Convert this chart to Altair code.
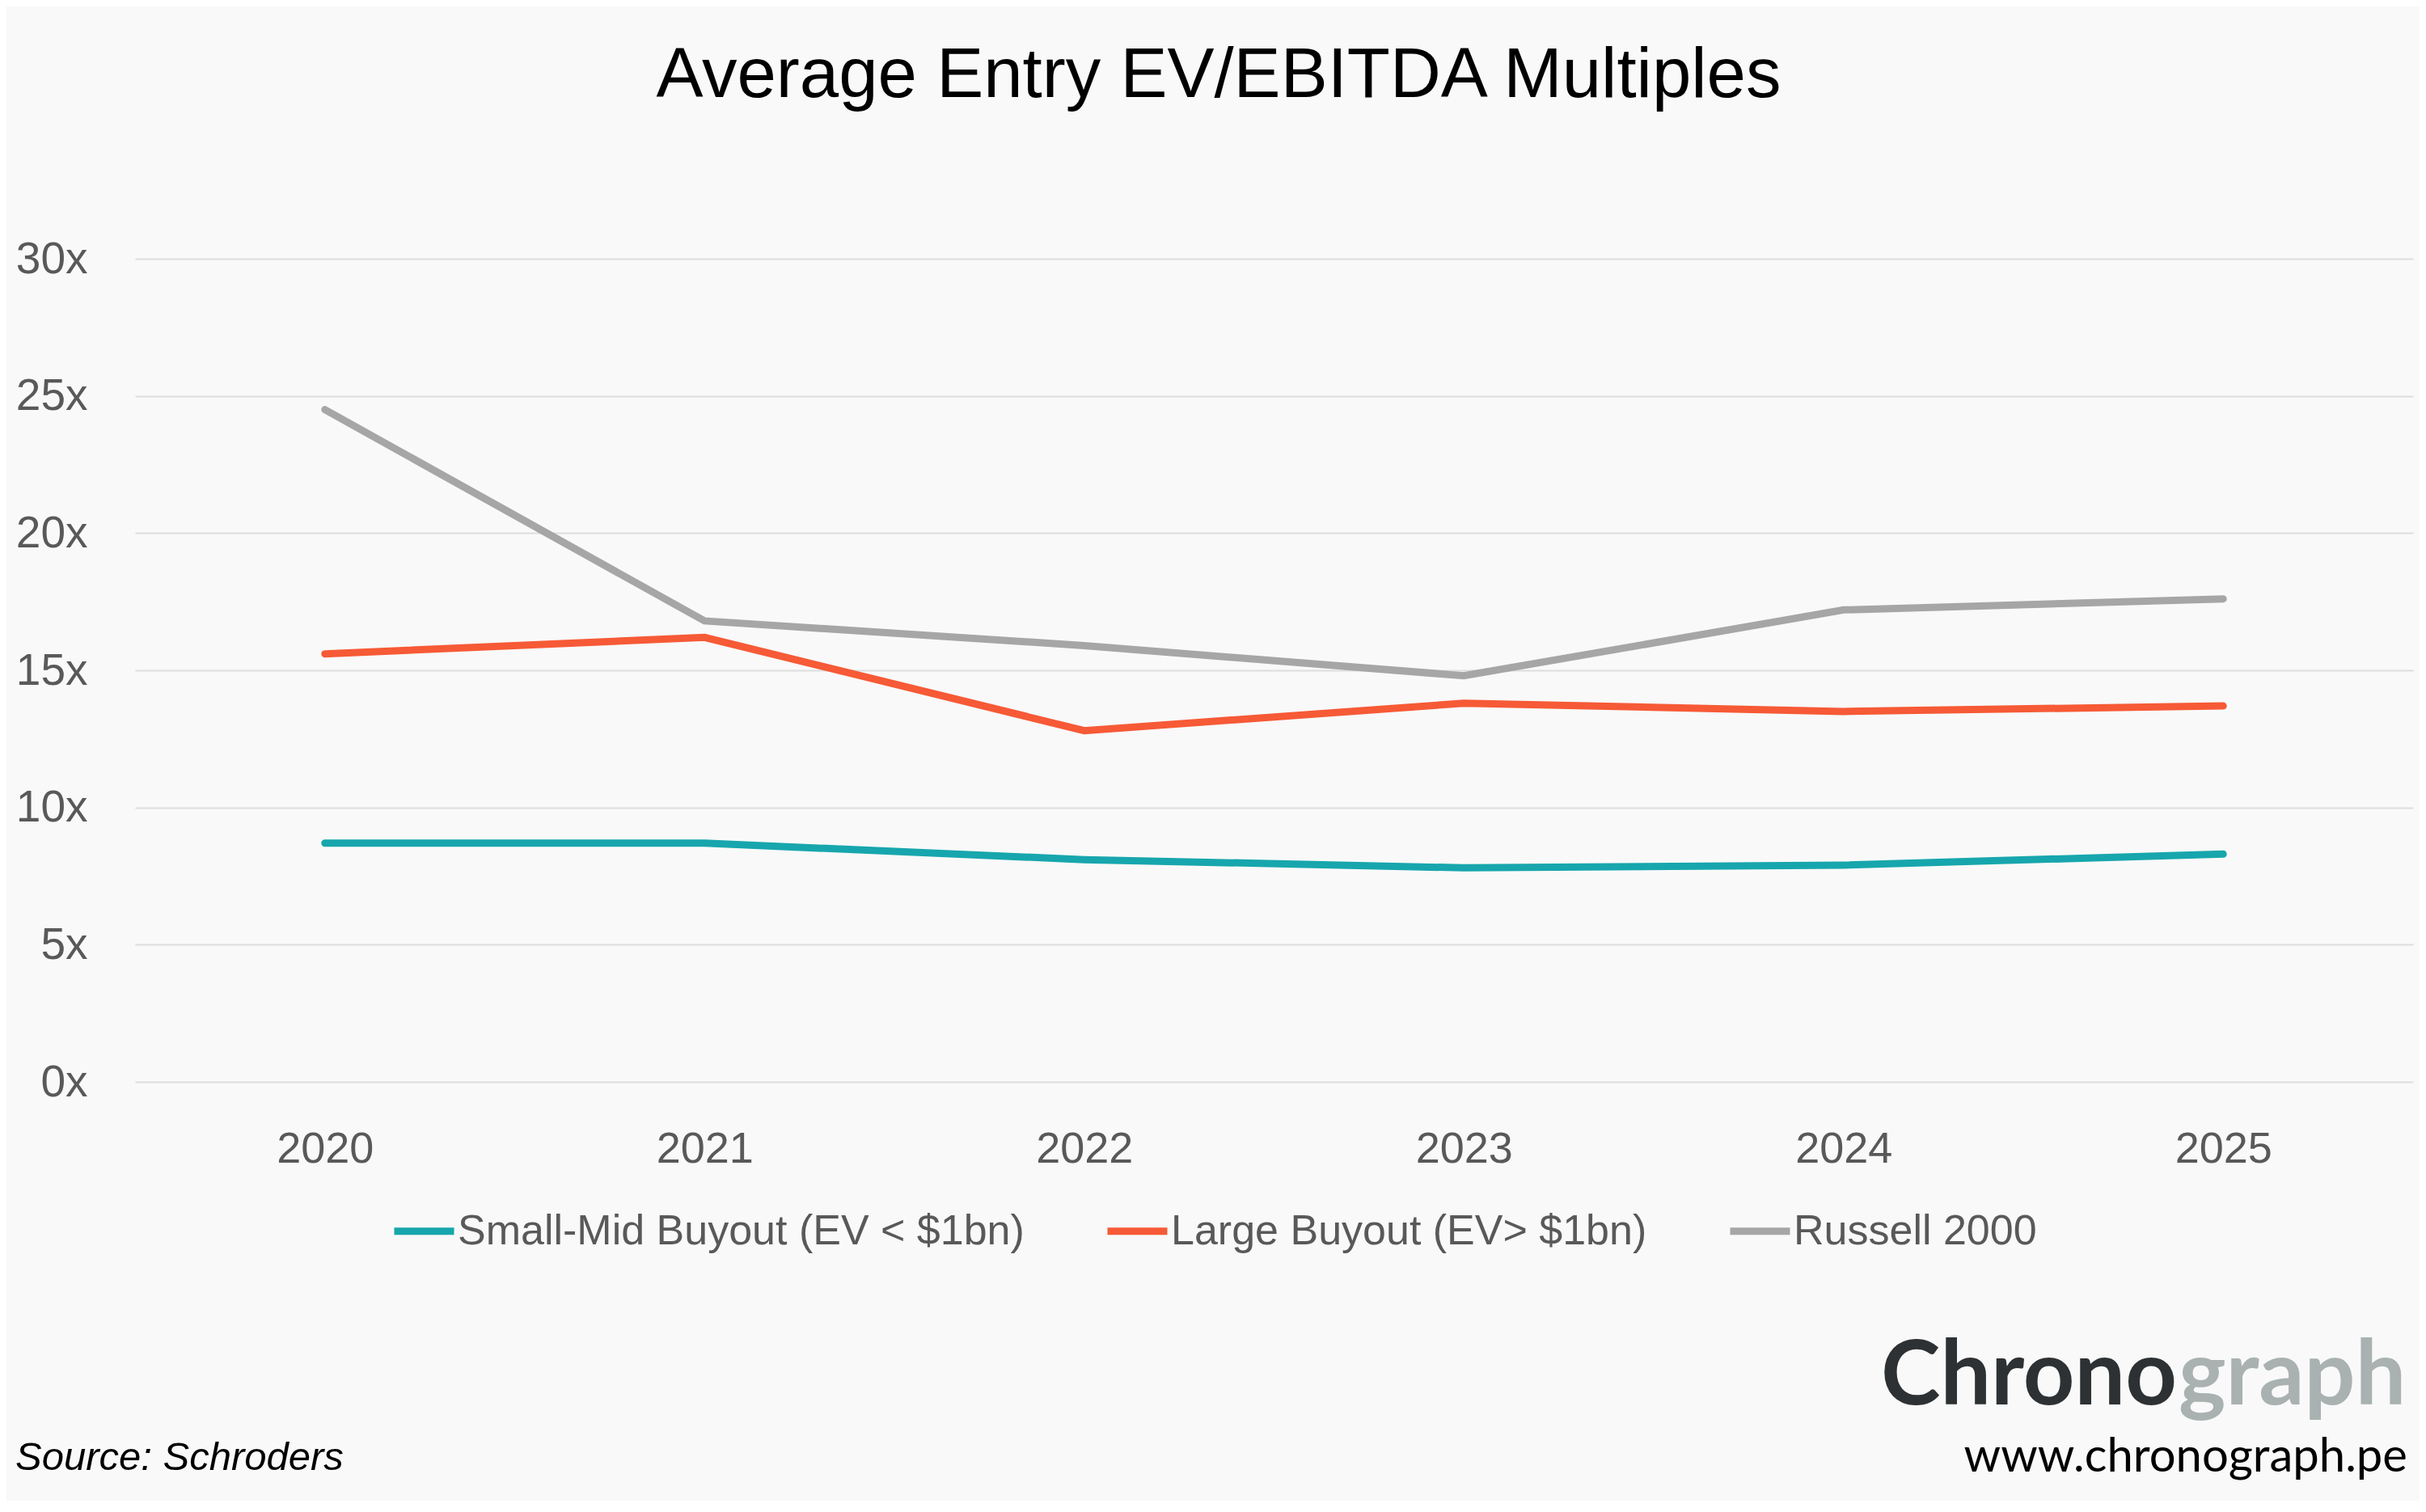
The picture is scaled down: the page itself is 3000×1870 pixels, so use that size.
import altair as alt
import pandas as pd

years = ["2020", "2021", "2022", "2023", "2024", "2025"]
small_mid = [8.7, 8.7, 8.1, 7.8, 7.9, 8.3]
large = [15.6, 16.2, 12.8, 13.8, 13.5, 13.7]
russell = [24.5, 16.8, 15.9, 14.8, 17.2, 17.6]

series_names = ["Small-Mid Buyout (EV < $1bn)", "Large Buyout (EV> $1bn)", "Russell 2000"]
series_colors = ["#17A6AD", "#F65A36", "#A6A6A6"]
series_widths = [9, 9, 6]
y_ticks = [0, 5, 10, 15, 20, 25, 30]

title_text = "Average Entry EV/EBITDA Multiples"
source_text = "Source: Schroders"
logo_dark = "Chrono"
logo_light = "graph"
url_text = "www.chronograph.pe"

rows = []
for name, vals in zip(series_names, [small_mid, large, russell]):
    for yr, v in zip(years, vals):
        rows.append({"year": yr, "value": v, "series": name})
df = pd.DataFrame(rows)

FONT = "Liberation Sans"
W, H = 2817, 1018

lines = alt.Chart(df).mark_line(strokeCap="round", strokeJoin="miter").encode(
    x=alt.X("year:O", sort=years, title=None,
            scale=alt.Scale(type="point", padding=0.5),
            axis=alt.Axis(labelAngle=0, labelFont=FONT, labelFontSize=54,
                          labelColor="#595959", labelPadding=56, domain=False,
                          ticks=False, grid=False)),
    y=alt.Y("value:Q", title=None,
            scale=alt.Scale(domain=[0, 30], nice=False, zero=True),
            axis=alt.Axis(values=y_ticks, labelExpr="datum.value + 'x'",
                          labelFont=FONT, labelFontSize=55, labelColor="#595959",
                          labelPadding=59, domain=False, ticks=False,
                          grid=True, gridColor="#DDDDDD", gridWidth=2)),
    color=alt.Color("series:N", title=None,
                    scale=alt.Scale(domain=series_names, range=series_colors),
                    legend=alt.Legend(orient="none", legendX=316, legendY=1161,
                                      direction="horizontal", symbolType="stroke",
                                      symbolSize=5476, symbolStrokeWidth=9,
                                      labelFont=FONT, labelFontSize=52,
                                      labelColor="#595959", labelOffset=0,
                                      columnPadding=84, padding=0,
                                      labelLimit=2000)),
    strokeWidth=alt.StrokeWidth("series:N",
                                scale=alt.Scale(domain=series_names, range=series_widths),
                                legend=None),
)

def label(text, x, y, size, font=FONT, color="#000000", align="left",
          weight="normal", style="normal"):
    return alt.Chart(pd.DataFrame({"t": [text]})).mark_text(
        font=font, fontSize=size, color=color, align=align, baseline="alphabetic",
        fontWeight=weight, fontStyle=style,
    ).encode(text="t:N", x=alt.value(x), y=alt.value(y))

title = label(title_text, 1340, -200, 87, align="center")
source = label(source_text, -148, 1498, 49, style="italic")
logo1 = label(logo_dark, 2525, 1417, 111, font="Lato", color="#2E3133",
              align="right", weight="bold")
logo2 = label(logo_light, 2527, 1417, 111, font="Lato", color="#A9B1B1",
              align="left", weight="bold")
url = label(url_text, 2810, 1500, 58, font="Lato", color="#000000", align="right")

chart = alt.layer(lines, title, source, logo1, logo2, url).properties(
    width=W, height=H,
    autosize=alt.AutoSizeParams(type="none"),
    padding={"left": 159, "top": 312, "right": 8, "bottom": 518},
    background="#F9F9F9",
).configure_view(strokeWidth=0)

chart.save("out.html", embed_options={"renderer": "svg", "actions": False})
